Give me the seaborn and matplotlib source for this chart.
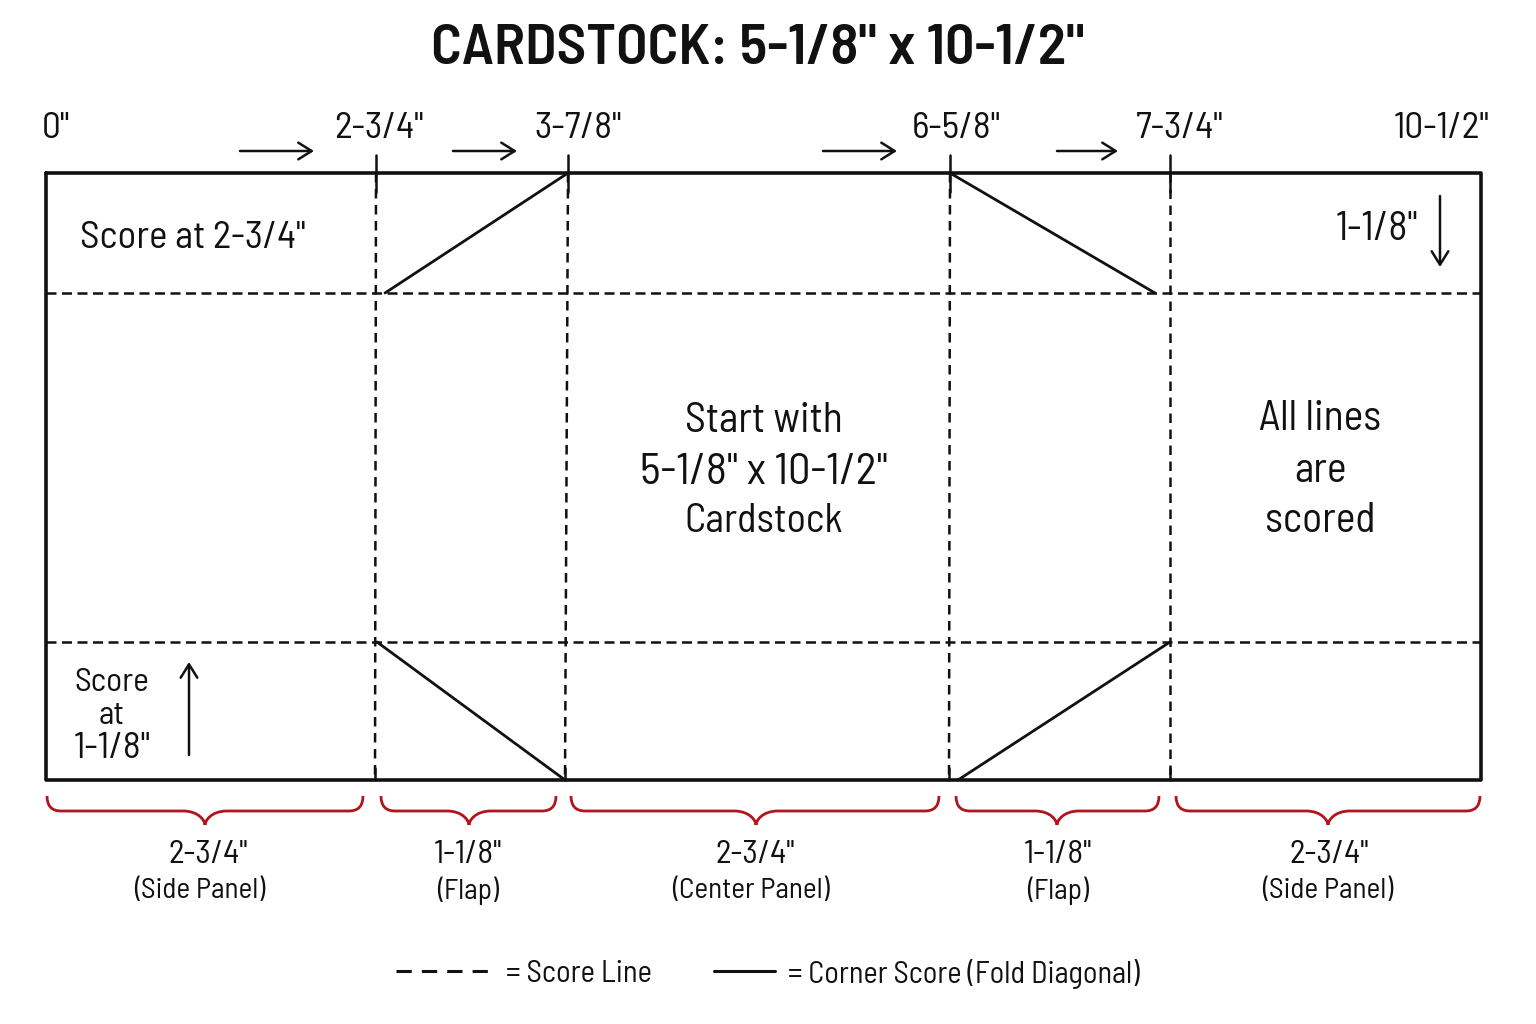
"""
Cardstock scoring diagram
"""
import matplotlib
matplotlib.use('Agg')
import matplotlib.pyplot as plt
from matplotlib import font_manager
from matplotlib.path import Path
from matplotlib.patches import PathPatch
import pandas as pd
import seaborn as sns

sns.set_theme(style='white')
names = {f.name for f in font_manager.fontManager.ttflist}
FONT = next((n for n in ['Barlow Semi Condensed', 'Fira Sans Condensed', 'Roboto Condensed', 'Lato'] if n in names), 'DejaVu Sans')
plt.rcParams['font.family'] = [FONT, 'DejaVu Sans']

INK = '#111111'
RED = '#b3141c'

# Sheet outline, drawn in picture units
SHEET_X = [46, 1481, 1481, 46, 46]
SHEET_Y = [173, 173, 780, 780, 173]

# Score lines
SCORE_TOP_X = [376, 568, 950, 1170]
SCORE_BOTTOM_X = [375, 565, 949, 1170]
SCORE_Y = [293, 642]

# Corner folds
DIAG_X = [[385, 568], [950, 1155], [377, 565], [958, 1170]]
DIAG_Y = [[293, 173], [173, 293], [642, 780], [780, 642]]

# Top ruler
RULER_LABELS = ['0"', '2-3/4"', '3-7/8"', '6-5/8"', '7-3/4"', '10-1/2"']
RULER_X = [56, 379, 578, 956, 1180, 1442]
RULER_ARROWS = [(240, 314), (453, 517), (823, 897), (1057, 1118)]

# Panels under the sheet
BRACE_LEFT = [47, 381, 571, 956, 1176]
BRACE_RIGHT = [363, 556, 939, 1159, 1480]
BRACE_TIP = [205, 469, 756, 1057, 1328]
PANEL_SIZES = ['2-3/4"', '1-1/8"', '2-3/4"', '1-1/8"', '2-3/4"']
PANEL_NAMES = ['(Side Panel)', '(Flap)', '(Center Panel)', '(Flap)', '(Side Panel)']
PANEL_SIZE_X = [208, 468, 755, 1058, 1329]
PANEL_NAME_X = [200, 468, 751, 1058, 1328]


def draw_lines(ax, segments, **kws):
    rows = []
    for i, (xs, ys) in enumerate(segments):
        for x, y in zip(xs, ys):
            rows.append({'x': x, 'y': y, 'seg': i})
    df = pd.DataFrame(rows)
    sns.lineplot(data=df, x='x', y='y', units='seg', estimator=None, sort=False,
                 color=INK, legend=False, ax=ax, **kws)


def draw_brace(ax, x0, x1, tip):
    top, mid, low = 796, 811, 825
    verts = [(x0, top), (x0, mid), (x0 + 14, mid), (tip - 22, mid),
             (tip - 6, mid), (tip, low - 4), (tip, low),
             (tip, low - 4), (tip + 6, mid), (tip + 22, mid),
             (x1 - 14, mid), (x1, mid), (x1, top)]
    codes = [Path.MOVETO, Path.CURVE3, Path.CURVE3, Path.LINETO,
             Path.CURVE4, Path.CURVE4, Path.CURVE4,
             Path.CURVE4, Path.CURVE4, Path.CURVE4,
             Path.LINETO, Path.CURVE3, Path.CURVE3]
    ax.add_patch(PathPatch(Path(verts, codes), fc='none', ec=RED, lw=2.0))


def arrow(ax, start, end):
    ax.annotate('', xy=end, xytext=start,
                arrowprops=dict(arrowstyle='->,head_length=0.8,head_width=0.5',
                                color=INK, lw=1.8, shrinkA=0, shrinkB=0))


def main():
    fig, ax = plt.subplots(figsize=(15.36, 10.24), dpi=100)
    ax.set_position([0, 0, 1, 1])

    # Outline and corner folds
    draw_lines(ax, [(SHEET_X, SHEET_Y)], lw=2.6)
    draw_lines(ax, list(zip(DIAG_X, DIAG_Y)), lw=2.0)

    # Ticks over the top edge and small ones on the bottom edge
    ticks = [([x, x], [155, 192]) for x in SCORE_TOP_X]
    ticks += [([x, x], [768, 780]) for x in SCORE_BOTTOM_X]
    draw_lines(ax, ticks, lw=1.8)

    # Score lines
    verticals = [([t, b], [173, 780]) for t, b in zip(SCORE_TOP_X, SCORE_BOTTOM_X)]
    draw_lines(ax, verticals, lw=1.8, linestyle=(0, (3.8, 2.6)))
    horizontals = [([SHEET_X[0], SHEET_X[1]], [y, y]) for y in SCORE_Y]
    draw_lines(ax, horizontals, lw=1.8, linestyle=(0, (4.0, 2.2)))

    # Arrows
    for x0, x1 in RULER_ARROWS:
        arrow(ax, (x0, 151), (x1, 151))
    arrow(ax, (1440, 196), (1440, 267))
    arrow(ax, (189, 755), (189, 662))

    # Text
    txt = dict(ha='center', va='center', color=INK)
    ax.text(758, 49, 'CARDSTOCK: 5-1/8" x 10-1/2"', fontsize=41.7, fontweight=600, **txt)
    for x, label in zip(RULER_X, RULER_LABELS):
        ax.text(x, 129, label, fontsize=27, **txt)

    ax.text(193, 239, 'Score at 2-3/4"', fontsize=28, **txt)
    ax.text(1377, 229, '1-1/8"', fontsize=29, **txt)
    for y, line, size in zip([683, 716, 749], ['Score', 'at', '1-1/8"'], [24, 24, 27]):
        ax.text(112, y, line, fontsize=size, **txt)
    for y, line, size in zip([422, 473, 522], ['Start with', '5-1/8" x 10-1/2"', 'Cardstock'], [30, 32, 29]):
        ax.text(764, y, line, fontsize=size, **txt)
    for y, line in zip([420, 472, 521], ['All lines', 'are', 'scored']):
        ax.text(1320, y, line, fontsize=30, **txt)

    # Panel braces and captions
    for left, right, tip in zip(BRACE_LEFT, BRACE_RIGHT, BRACE_TIP):
        draw_brace(ax, left, right, tip)
    for x, label in zip(PANEL_SIZE_X, PANEL_SIZES):
        ax.text(x, 855, label, fontsize=24, **txt)
    for x, label in zip(PANEL_NAME_X, PANEL_NAMES):
        ax.text(x, 891, label, fontsize=21, **txt)

    # Key
    draw_lines(ax, [([396, 492], [971, 971])], lw=2.2, linestyle=(0, (5, 3.3)))
    draw_lines(ax, [([714, 775], [971, 971])], lw=2.2)
    ax.text(506, 974, '= Score Line', fontsize=22, ha='left', va='center', color=INK)
    ax.text(788, 974, '= Corner Score (Fold Diagonal)', fontsize=21.8, ha='left', va='center', color=INK)

    ax.set_xlim(0, 1536)
    ax.set_ylim(1024, 0)
    ax.set_axis_off()
    fig.savefig('out.png', dpi=100, facecolor='white')


if __name__ == '__main__':
    main()
